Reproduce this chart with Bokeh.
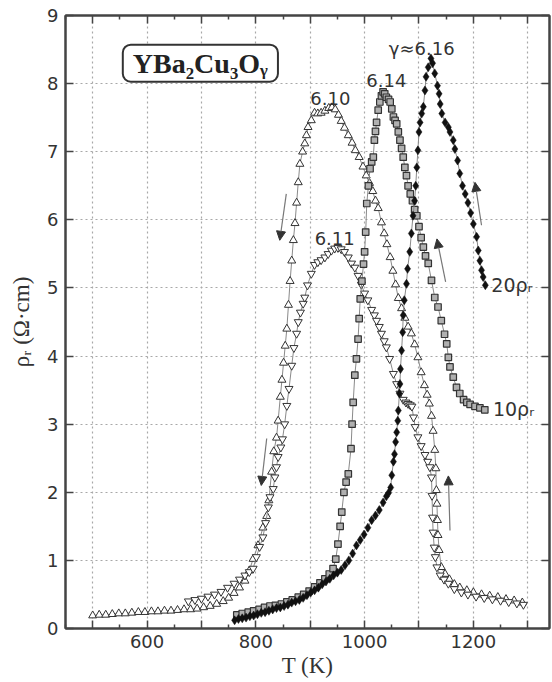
from bokeh.plotting import figure
from bokeh.models import (FixedTicker, LinearAxis, Label, Arrow, NormalHead, Range1d)
from bokeh.embed import file_html
from bokeh.resources import INLINE

# ---------------- data ----------------
T_610 = [500, 512, 524, 536, 548, 560, 572, 584, 596, 608, 620, 632, 644, 656, 668, 680, 692, 704, 716, 728,
         740, 750, 760, 770, 780, 788, 795, 804, 813, 820, 824, 829, 833, 838, 841, 845, 848, 851, 854, 857,
         860, 863, 866, 869, 872, 875, 878, 881, 886, 890, 893, 896, 902, 908, 914, 920, 927, 934, 940, 946,
         952, 957, 963, 970, 977, 983, 990, 997, 1003, 1009, 1015, 1020, 1025, 1031, 1036, 1041, 1047, 1052,
         1057, 1062, 1068, 1074, 1080, 1086, 1092, 1098, 1104, 1110, 1115, 1119, 1123, 1126, 1129, 1131, 1132,
         1133, 1134, 1135, 1137, 1141, 1148, 1156, 1165, 1175, 1188, 1200, 1215, 1230, 1245, 1260, 1275, 1290]
R_610 = [0.19, 0.20, 0.20, 0.21, 0.22, 0.22, 0.23, 0.24, 0.24, 0.25, 0.25, 0.26, 0.26, 0.27, 0.28, 0.28, 0.29, 0.31, 0.33, 0.36,
         0.40, 0.45, 0.52, 0.60, 0.70, 0.85, 1.02, 1.22, 1.48, 1.65, 1.88, 2.30, 2.60, 2.80, 3.05, 3.40, 3.65, 3.90, 4.15, 4.40,
         4.75, 5.10, 5.40, 5.70, 5.95, 6.25, 6.55, 6.82, 7.00, 7.12, 7.24, 7.36, 7.46, 7.57, 7.56, 7.57, 7.60, 7.64, 7.65, 7.62,
         7.54, 7.45, 7.35, 7.24, 7.13, 7.02, 6.92, 6.78, 6.65, 6.54, 6.42, 6.28, 6.17, 5.96, 5.80, 5.64, 5.45, 5.25,
         5.05, 4.85, 4.70, 4.56, 4.43, 4.33, 4.17, 3.98, 3.76, 3.57, 3.43, 3.30, 3.12, 2.90, 2.62, 2.35, 2.03,
         1.83, 1.59, 1.37, 1.15, 0.90, 0.80, 0.72, 0.65, 0.60, 0.56, 0.53, 0.50, 0.48, 0.46, 0.43, 0.41, 0.38]

T_611 = [676, 688, 700, 712, 724, 736, 748, 760, 770, 780, 788, 795, 801, 807, 813, 818, 823, 826, 832, 835,
         838, 841, 846, 849, 853, 857, 861, 866, 870, 875, 878, 882, 887, 890, 895, 902, 908, 914, 920, 927,
         933, 939, 945, 951, 957, 963, 970, 976, 982, 988, 994, 1000, 1006, 1013, 1018, 1022, 1027, 1031, 1036, 1040,
         1046, 1053, 1059, 1065, 1071, 1076, 1080, 1084, 1087, 1090, 1093, 1098, 1104, 1111, 1116, 1120, 1123, 1124,
         1125, 1126, 1128, 1130, 1133, 1139, 1146, 1154, 1165, 1178, 1190, 1205, 1220, 1235, 1250, 1265, 1280, 1292]
R_611 = [0.40, 0.42, 0.44, 0.47, 0.50, 0.54, 0.60, 0.66, 0.72, 0.78, 0.83, 0.88, 1.05, 1.20, 1.34, 1.55, 1.78, 1.93, 2.05, 2.22,
         2.37, 2.52, 2.66, 2.78, 3.00, 3.27, 3.52, 3.86, 4.12, 4.33, 4.50, 4.64, 4.77, 4.86, 5.04, 5.21, 5.34, 5.38, 5.41, 5.45,
         5.50, 5.55, 5.58, 5.59, 5.57, 5.53, 5.45, 5.36, 5.30, 5.18, 5.05, 4.92, 4.82, 4.68, 4.60, 4.52, 4.43, 4.33, 4.22, 4.13,
         3.96, 3.74, 3.59, 3.45, 3.36, 3.32, 3.30, 3.28, 3.26, 3.10, 2.96, 2.81, 2.68, 2.55, 2.45, 2.37, 2.22, 1.95,
         1.63, 1.41, 1.19, 1.05, 0.90, 0.78, 0.72, 0.66, 0.58, 0.53, 0.50, 0.47, 0.45, 0.43, 0.41, 0.39, 0.37, 0.35]

T_614 = [765, 775, 786, 796, 806, 816, 826, 836, 847, 857, 867, 878, 888, 898, 908, 918, 927, 935, 942, 947,
         951, 955, 958, 962, 966, 970, 975, 977, 979, 982, 985, 988, 990, 992, 995, 998, 1000, 1002, 1004, 1007,
         1010, 1013, 1016, 1018, 1020, 1022, 1025, 1028, 1031, 1034, 1037, 1040, 1044, 1047, 1050, 1053, 1056, 1059,
         1062, 1065, 1068, 1071, 1074, 1077, 1080, 1084, 1088, 1092, 1096, 1100, 1104, 1108, 1112, 1117, 1123, 1129,
         1135, 1141, 1147, 1151, 1154, 1157, 1163, 1169, 1175, 1182, 1188, 1194, 1203, 1212, 1221]
R_614 = [0.20, 0.22, 0.24, 0.26, 0.28, 0.31, 0.33, 0.34, 0.36, 0.39, 0.42, 0.46, 0.50, 0.55, 0.61, 0.67, 0.73, 0.80, 0.88, 1.02,
         1.24, 1.50, 1.71, 2.00, 2.15, 2.27, 2.64, 3.00, 3.32, 3.72, 3.96, 4.25, 4.55, 4.84, 5.10, 5.35, 5.53, 5.82, 6.24, 6.50,
         6.75, 6.85, 6.92, 7.17, 7.30, 7.43, 7.61, 7.73, 7.82, 7.88, 7.85, 7.80, 7.77, 7.73, 7.63, 7.51, 7.46, 7.41,
         7.29, 7.17, 7.05, 6.92, 6.77, 6.65, 6.50, 6.38, 6.28, 6.15, 6.06, 5.90, 5.74, 5.60, 5.47, 5.36, 5.11, 4.86,
         4.72, 4.52, 4.32, 4.18, 3.98, 3.84, 3.69, 3.54, 3.45, 3.36, 3.32, 3.29, 3.26, 3.24, 3.21]

T_616 = [761, 768, 775, 782, 789, 796, 803, 810, 817, 824, 831, 838, 845, 852, 859, 866, 873, 880, 887, 894,
         901, 908, 915, 922, 929, 936, 943, 950, 957, 964, 971, 978, 985, 992, 999, 1006, 1013, 1020, 1027, 1034,
         1040, 1044, 1048, 1050, 1053, 1055, 1057, 1059, 1061, 1062, 1064, 1065, 1066, 1068, 1070, 1071, 1073, 1077,
         1079, 1083, 1086, 1089, 1092, 1094, 1096, 1098, 1100, 1102, 1105, 1108, 1111, 1113, 1117, 1122, 1125, 1129,
         1134, 1137, 1139, 1142, 1148, 1154, 1157, 1163, 1166, 1171, 1175, 1180, 1185, 1190, 1195, 1200, 1206, 1209,
         1212, 1215, 1218, 1222]
R_616 = [0.12, 0.14, 0.15, 0.16, 0.18, 0.19, 0.21, 0.23, 0.24, 0.26, 0.28, 0.30, 0.31, 0.33, 0.35, 0.38, 0.40, 0.42, 0.45, 0.49,
         0.53, 0.56, 0.60, 0.65, 0.69, 0.73, 0.78, 0.82, 0.86, 0.93, 1.00, 1.10, 1.22, 1.30, 1.38, 1.48, 1.59, 1.66, 1.74, 1.85,
         1.94, 1.99, 2.07, 2.25, 2.45, 2.56, 2.74, 2.88, 3.05, 3.20, 3.45, 3.59, 3.81, 4.08, 4.35, 4.60, 4.82, 5.06,
         5.28, 5.53, 5.80, 6.06, 6.28, 6.50, 6.77, 7.02, 7.29, 7.43, 7.56, 7.66, 7.90, 8.10, 8.24, 8.37, 8.30, 8.15,
         7.97, 7.85, 7.70, 7.56, 7.43, 7.36, 7.29, 7.17, 7.04, 6.87, 6.68, 6.50, 6.38, 6.25, 6.10, 5.94, 5.75, 5.55,
         5.40, 5.26, 5.16, 5.04]

# tick definitions
x_major_ticks = [500, 600, 700, 800, 900, 1000, 1100, 1200, 1300]
x_minor_ticks = [450, 550, 650, 750, 850, 950, 1050, 1150, 1250, 1350]
x_tick_labels = {500: "", 600: "600", 700: "", 800: "800", 900: "", 1000: "1000", 1100: "", 1200: "1200", 1300: ""}
y_ticks = [0, 1, 2, 3, 4, 5, 6, 7, 8, 9]

# annotations (text, T, rho)
series_labels = [("6.10", 937, 7.78), ("6.14", 1040, 8.04), ("γ≈6.16", 1105, 8.51), ("6.11", 945, 5.73)]
scale_labels = [("20ρᵣ", 1233, 5.04), ("10ρᵣ", 1236, 3.22)]
arrows = [  # (T_start, rho_start, T_end, rho_end)
    (856, 6.38, 844, 5.70),
    (820, 2.79, 810, 2.10),
    (1149, 5.09, 1133, 5.72),
    (1215, 5.92, 1203, 6.55),
    (1157, 1.44, 1154, 2.24),
]

# ---------------- figure ----------------
p = figure(width=552, height=682, output_backend="svg", toolbar_location=None,
           x_range=Range1d(450, 1340), y_range=Range1d(0, 9),
           min_border_left=65, min_border_right=3, min_border_top=15, min_border_bottom=54,
           background_fill_color="white", border_fill_color="white")

p.outline_line_color = "#444444"
p.outline_line_width = 2

tick_font = "DejaVu Sans"
for ax in (p.xaxis[0], p.yaxis[0]):
    ax.axis_line_color = "#444444"
    ax.axis_line_width = 2
    ax.major_tick_line_color = "#444444"
    ax.minor_tick_line_color = "#444444"
    ax.major_tick_line_width = 1.5
    ax.minor_tick_line_width = 1.5
    ax.major_tick_in = 8
    ax.major_tick_out = 0
    ax.minor_tick_in = 4
    ax.minor_tick_out = 0
    ax.major_label_text_font = tick_font
    ax.major_label_text_font_size = "18px"
    ax.major_label_text_color = "#333333"
    ax.axis_label_text_font = "Liberation Serif"
    ax.axis_label_text_font_size = "23px"
    ax.axis_label_text_font_style = "normal"
    ax.axis_label_text_color = "#333333"

p.xaxis.ticker = FixedTicker(ticks=x_major_ticks, minor_ticks=x_minor_ticks)
p.xaxis.major_label_overrides = x_tick_labels
p.xaxis.major_label_standoff = 6
p.xaxis.axis_label = "T (K)"
p.xaxis.axis_label_standoff = 2

p.yaxis.ticker = FixedTicker(ticks=y_ticks, minor_ticks=[])
p.yaxis.major_label_standoff = 7
p.yaxis.axis_label = "ρᵣ (Ω·cm)"
p.yaxis.axis_label_standoff = 10

top = LinearAxis(ticker=FixedTicker(ticks=x_major_ticks, minor_ticks=x_minor_ticks),
                 major_label_overrides={t: "" for t in x_major_ticks},
                 major_label_text_font_size="1px", major_label_standoff=0,
                 axis_line_color="#444444", axis_line_width=2,
                 major_tick_in=8, major_tick_out=0, minor_tick_in=4, minor_tick_out=0,
                 major_tick_line_color="#444444", minor_tick_line_color="#444444",
                 major_tick_line_width=1.5, minor_tick_line_width=1.5)
p.add_layout(top, "above")
right = LinearAxis(ticker=FixedTicker(ticks=y_ticks, minor_ticks=[]),
                   major_label_overrides={t: "" for t in y_ticks},
                   major_label_text_font_size="1px", major_label_standoff=0,
                   axis_line_color="#444444", axis_line_width=2,
                   major_tick_in=8, major_tick_out=0, minor_tick_in=0, minor_tick_out=0,
                   major_tick_line_color="#444444", major_tick_line_width=1.5)
p.add_layout(right, "right")

p.xgrid.ticker = FixedTicker(ticks=x_major_ticks)
p.ygrid.ticker = FixedTicker(ticks=y_ticks)
for g in (p.xgrid[0], p.ygrid[0]):
    g.grid_line_color = "#a8a8a8"
    g.grid_line_dash = "2 3"
    g.grid_line_width = 1.2

line_col = "#8a8a8a"
# 6.10 up triangles
p.line(T_610, R_610, line_color=line_col, line_width=1)
p.scatter(T_610, R_610, marker="triangle", size=8, fill_color="white", line_color="#333333", line_width=1)
# 6.11 down triangles
p.line(T_611, R_611, line_color=line_col, line_width=1)
p.scatter(T_611, R_611, marker="inverted_triangle", size=8, fill_color="white", line_color="#333333", line_width=1)
# 6.14 squares
p.line(T_614, R_614, line_color=line_col, line_width=1)
p.scatter(T_614, R_614, marker="square", size=6.5, fill_color="#b0b0b0", line_color="#333333", line_width=1.2)
# 6.16 diamonds
p.line(T_616, R_616, line_color=line_col, line_width=1)
p.scatter(T_616, R_616, marker="diamond", size=9, fill_color="#111111", line_color="#111111", line_width=0.5)

for txt, xx, yy in series_labels:
    p.add_layout(Label(x=xx, y=yy, text=txt, text_align="center", text_baseline="alphabetic",
                       text_font=tick_font, text_font_size="18px", text_color="#333333"))
for txt, xx, yy in scale_labels:
    p.add_layout(Label(x=xx, y=yy, text=txt, text_align="left", text_baseline="middle",
                       text_font=tick_font, text_font_size="19px", text_color="#333333"))

for xs, ys, xe, ye in arrows:
    p.add_layout(Arrow(x_start=xs, y_start=ys, x_end=xe, y_end=ye, line_color="#777777", line_width=1.2,
                       end=NormalHead(size=9, fill_color="#333333", line_color="#333333", line_width=1)))

p.add_layout(Label(x=698, y=8.30, text="YBa₂Cu₃Oᵧ", text_align="center", text_baseline="middle",
                   text_font="Liberation Serif", text_font_style="bold", text_font_size="28px",
                   text_color="#222222", background_fill_color="white",
                   border_line_color="#333333", border_line_width=2, border_radius=8,
                   padding=dict(left=10, right=10, top=3, bottom=3)))

open("out.html", "w").write(file_html(p, INLINE))
